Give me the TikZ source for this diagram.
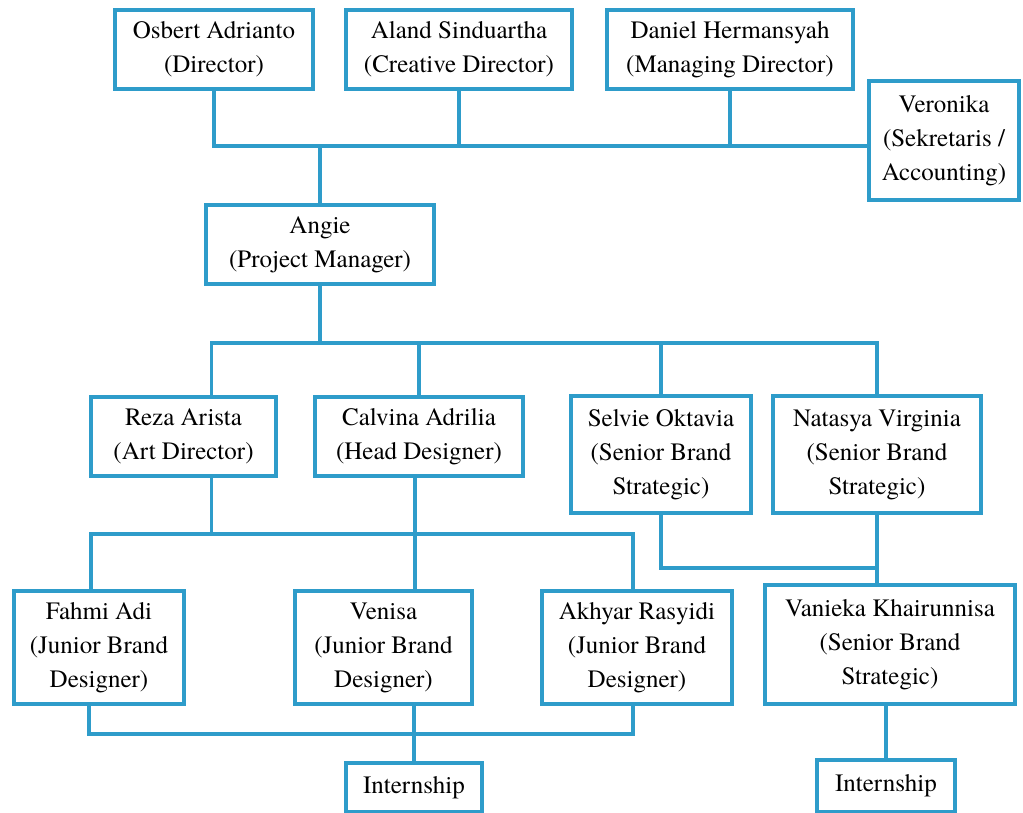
\documentclass[tikz,border=0pt]{standalone}
\usepackage{fontspec}
\setmainfont{TeX Gyre Termes}
\definecolor{orgblue}{RGB}{46,156,202}
\tikzset{
  box/.style={draw=orgblue, line width=3.5pt, align=center, inner sep=0pt,
    font=\fontsize{25}{34}\selectfont},
  link/.style={draw=orgblue, line width=3.5pt},
}

\begin{document}
\begin{tikzpicture}[x=1pt, y=-1pt]
\useasboundingbox (0,0) rectangle (1023,813);
\clip (0,0) rectangle (1023,813);

\node[box, minimum width=198, minimum height=79] (osbert) at (214,49.5) {Osbert Adrianto\\(Director)};
\node[box, minimum width=226, minimum height=79] (aland) at (459,49.5) {Aland Sinduartha\\(Creative Director)};
\node[box, minimum width=246, minimum height=79] (daniel) at (730,49.5) {Daniel Hermansyah\\(Managing Director)};
\node[box, minimum width=150, minimum height=119] (veronika) at (944,140.5) {Veronika\\(Sekretaris /\\Accounting)};

\node[box, minimum width=228, minimum height=79] (angie) at (320,244.5) {Angie\\(Project Manager)};

\node[box, minimum width=185, minimum height=79] (reza) at (183.5,436.5) {Reza Arista\\(Art Director)};
\node[box, minimum width=208, minimum height=79] (calvina) at (419,436.5) {Calvina Adrilia\\(Head Designer)};
\node[box, minimum width=180, minimum height=117] (selvie) at (661,454.5) {Selvie Oktavia\\(Senior Brand\\Strategic)};
\node[box, minimum width=208, minimum height=117] (natasya) at (877,454.5) {Natasya Virginia\\(Senior Brand\\Strategic)};

\node[box, minimum width=170, minimum height=113] (fahmi) at (99,647.5) {Fahmi Adi\\(Junior Brand\\Designer)};
\node[box, minimum width=177, minimum height=113] (venisa) at (383.5,647.5) {Venisa\\(Junior Brand\\Designer)};
\node[box, minimum width=190, minimum height=113] (akhyar) at (637,647.5) {Akhyar Rasyidi\\(Junior Brand\\Designer)};
\node[box, minimum width=250, minimum height=119] (vanieka) at (890,644.5) {Vanieka Khairunnisa\\(Senior Brand\\Strategic)};

\node[box, minimum width=136, minimum height=49] (interna) at (414,787.5) {Internship};
\node[box, minimum width=138, minimum height=52] (internb) at (886,786) {Internship};

\coordinate (topbus) at (0,146);
\draw[link] (osbert.south) |- (veronika.west |- topbus);
\draw[link] (aland.south) -- (aland.south |- topbus);
\draw[link] (daniel.south) -- (daniel.south |- topbus);
\draw[link] (angie.north |- topbus) -- (angie.north);

\coordinate (midbus) at (0,343);
\draw[link] (angie.south) -- (angie.south |- midbus);
\draw[link] ([xshift=28pt]reza.north) |- (natasya.north |- midbus) -- (natasya.north);
\draw[link] (calvina.north |- midbus) -- (calvina.north);
\draw[link] (selvie.north |- midbus) -- (selvie.north);

\coordinate (lowbus) at (0,534);
\draw[link] ([xshift=28pt]reza.south) -- ([xshift=28pt]reza.south |- lowbus);
\draw[link] ([xshift=-8pt]fahmi.north) |- ([xshift=-4pt]akhyar.north |- lowbus) -- ([xshift=-4pt]akhyar.north);
\draw[link] ([xshift=-4pt]calvina.south) -- ([xshift=-4pt]calvina.south |- venisa.north);

\coordinate (stratbus) at (0,568);
\draw[link] (selvie.south) |- (natasya.south |- stratbus);
\draw[link] (natasya.south) -- (natasya.south |- vanieka.north);

\coordinate (juniorbus) at (0,734);
\draw[link] ([xshift=-10pt]fahmi.south) |- ([xshift=-4pt]akhyar.south |- juniorbus) -- ([xshift=-4pt]akhyar.south);
\draw[link] (interna.north |- venisa.south) -- (interna.north);
\draw[link] (internb.north |- vanieka.south) -- (internb.north);

\end{tikzpicture}
\end{document}
